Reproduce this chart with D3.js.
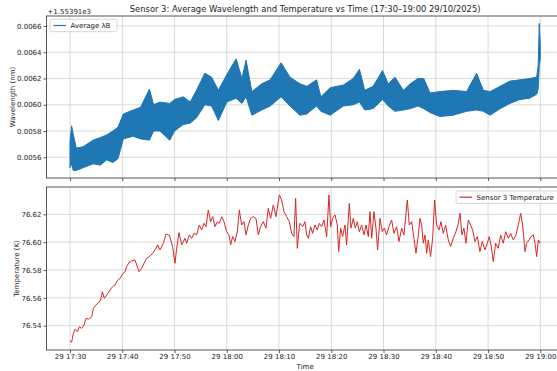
<!DOCTYPE html>
<html>
<head>
<meta charset="utf-8">
<script src="https://cdn.jsdelivr.net/npm/d3@7"></script>
<style>
  body { margin: 0; background: #fff; }
  text { font-family: "DejaVu Sans", sans-serif; fill: #222; }
</style>
</head>
<body>
<script>
// wavelength: offset from 1553.91 nm, upper / lower edge of the dense trace
const wlOffset = '+1.55391e3'
const wlMin = [0, 0.3, 0.6, 1.2, 2.5, 4.4, 5.8, 7.0, 8.2, 9.2, 10.2, 12.1, 13.5, 15.2, 16.0, 17.2, 19.1, 20.0, 21.7, 23.0,
  24.2, 25.8, 27.1, 28.4, 30.0, 31.8, 32.9, 33.7, 34.8, 36.7, 38.3, 40.4, 42.1, 44.0, 45.3, 47.2, 48.0, 49.8, 52.3, 54.2,
  55.4, 56.4, 58.0, 59.8, 60.9, 62.2, 63.8, 65.1, 66.6, 67.7, 68.9, 70.8, 73.3, 75.9, 77.8, 79.1, 80.4, 82.3, 84.2, 86.1,
  88.0, 89.3, 89.6, 89.8, 90.0]
const wlHi = [0.00572, 0.00584, 0.00578, 0.00567, 0.00568, 0.00573, 0.00575, 0.00577, 0.00580, 0.00583, 0.00593, 0.00596, 0.00598, 0.00612, 0.00600,
  0.00602, 0.00601, 0.00604, 0.00606, 0.00602, 0.00611, 0.00624, 0.00621, 0.00611, 0.00623, 0.00635, 0.00620, 0.00634, 0.00610, 0.00616,
  0.00619, 0.00632, 0.00621, 0.00616, 0.00614, 0.00619, 0.00606, 0.00613, 0.00615, 0.00620, 0.00627, 0.00611, 0.00614, 0.00626, 0.00616,
  0.00621, 0.00611, 0.00616, 0.00620, 0.00620, 0.00609, 0.00610, 0.00611, 0.00610, 0.00624, 0.00611, 0.00610, 0.00614, 0.00618, 0.00619,
  0.00620, 0.00621, 0.00630, 0.00662, 0.00645]
const wlLo = [0.00552, 0.00555, 0.00550, 0.00550, 0.00552, 0.00555, 0.00554, 0.00558, 0.00556, 0.00559, 0.00574, 0.00576, 0.00574, 0.00573, 0.00580,
  0.00580, 0.00573, 0.00580, 0.00585, 0.00586, 0.00590, 0.00600, 0.00599, 0.00588, 0.00602, 0.00605, 0.00601, 0.00606, 0.00592, 0.00596,
  0.00599, 0.00606, 0.00599, 0.00592, 0.00593, 0.00599, 0.00595, 0.00592, 0.00599, 0.00600, 0.00602, 0.00596, 0.00597, 0.00604, 0.00599,
  0.00595, 0.00596, 0.00597, 0.00599, 0.00597, 0.00594, 0.00591, 0.00592, 0.00595, 0.00596, 0.00595, 0.00592, 0.00597, 0.00601, 0.00604,
  0.00605, 0.00608, 0.00612, 0.00630, 0.00635]

// temperature (K), minutes after 17:30
const tempMin = [0, 0.3, 0.64, 0.96, 1.4, 1.79, 2.23, 2.68, 3.06, 3.51, 4.15, 4.47, 4.98, 5.42, 5.87, 6.19, 6.57, 7.02, 7.65, 8.16,
  8.61, 9.06, 9.57, 10.08, 10.52, 10.84, 11.29, 11.8, 12.44, 12.76, 13.2, 13.71, 14.16, 14.67, 15.18, 15.82, 16.46, 16.77, 17.22, 17.86,
  18.37, 19.01, 19.64, 20.09, 20.41, 20.86, 21.37, 22.0, 22.32, 22.83, 23.28, 23.73, 24.24, 24.75, 25.19, 25.64, 26.02, 26.47, 26.92, 27.30,
  27.75, 28.19, 28.57, 29.02, 29.47, 29.98, 30.43, 30.74, 31.13, 31.57, 32.02, 32.40, 32.85, 33.30, 33.68, 34.12, 34.57, 35.08, 35.59, 36.04,
  36.48, 36.99, 37.50, 37.95, 38.40, 38.91, 39.42, 40.06, 40.50, 40.95, 41.46, 41.97, 42.42, 42.86, 43.18, 43.50, 43.88, 44.01, 44.52, 44.97,
  45.29, 45.61, 46.05, 46.44, 46.88, 47.33, 47.71, 48.16, 48.61, 49.12, 49.56, 49.88, 50.26, 50.71, 51.16, 51.41, 51.79, 52.17, 52.62, 52.94,
  53.45, 53.77, 54.22, 54.60, 54.98, 55.37, 55.81, 56.26, 56.64, 57.09, 57.41, 57.73, 58.17, 58.55, 58.87, 59.32, 59.77, 60.15, 60.59, 61.04,
  61.55, 62.00, 62.51, 62.95, 63.47, 63.91, 64.55, 64.93, 65.38, 65.83, 66.21, 66.66, 66.97, 67.29, 67.61, 67.93, 68.25, 68.57, 69.01, 69.40,
  69.78, 70.16, 70.61, 70.99, 71.43, 71.88, 72.39, 72.84, 73.35, 73.86, 74.31, 74.63, 75.01, 75.39, 75.78, 76.22, 76.67, 77.05, 77.50, 77.94,
  78.45, 78.90, 79.41, 79.86, 80.24, 80.62, 81.01, 81.45, 81.96, 82.41, 82.92, 83.37, 83.88, 84.32, 84.84, 85.35, 85.79, 86.24, 86.62, 87.07,
  87.39, 87.84, 88.22, 88.67, 88.99, 89.31, 89.63, 89.95]
const tempK = [76.5292, 76.5280, 76.5344, 76.5374, 76.5356, 76.5392, 76.5380, 76.5404, 76.5453, 76.5446, 76.5464, 76.5525, 76.5548, 76.5565, 76.5584, 76.5644, 76.5596, 76.5620, 76.5656, 76.5680,
  76.5692, 76.5723, 76.5740, 76.5771, 76.5788, 76.5824, 76.5852, 76.5865, 76.5872, 76.5836, 76.5788, 76.5812, 76.5848, 76.5884, 76.5895, 76.5920, 76.5956, 76.5980, 76.5944, 76.5992,
  76.6058, 76.6050, 76.5967, 76.5848, 76.5956, 76.6068, 76.5980, 76.6028, 76.5992, 76.6052, 76.6028, 76.6063, 76.6052, 76.6123, 76.6087, 76.6135, 76.6111, 76.6231, 76.6147, 76.6183,
  76.6111, 76.6147, 76.6135, 76.6183, 76.6147, 76.6075, 76.6052, 76.5980, 76.6040, 76.6004, 76.6075, 76.6231, 76.6123, 76.6147, 76.6052, 76.6123, 76.6171, 76.6183, 76.6171, 76.6052,
  76.6111, 76.6147, 76.6100, 76.6243, 76.6171, 76.6267, 76.6183, 76.6339, 76.6303, 76.6219, 76.6183, 76.6147, 76.6063, 76.6040, 76.6315, 76.5956, 76.6111, 76.6135, 76.6111, 76.6147,
  76.6052, 76.6028, 76.6111, 76.6063, 76.6123, 76.6087, 76.6135, 76.6111, 76.6159, 76.6040, 76.6339, 76.6111, 76.6171, 76.6195, 76.6123, 76.5932, 76.6100, 76.6040, 76.6123, 76.5980,
  76.6279, 76.6100, 76.6171, 76.6100, 76.6147, 76.6075, 76.6123, 76.6052, 76.6123, 76.6040, 76.6219, 76.6028, 76.6219, 76.6100, 76.5944, 76.6171, 76.6075, 76.6100, 76.6052, 76.6111,
  76.6159, 76.6063, 76.6111, 76.6004, 76.6100, 76.6052, 76.6303, 76.6123, 76.6147, 76.6028, 76.5920, 76.6052, 76.6171, 76.6123, 76.5992, 76.6052, 76.5920, 76.6016, 76.5896, 76.6028,
  76.6303, 76.6123, 76.6087, 76.6147, 76.6063, 76.6123, 76.6016, 76.5968, 76.6028, 76.6075, 76.6135, 76.6207, 76.6052, 76.6100, 76.5992, 76.6159, 76.6123, 76.6087, 76.6004, 76.6040,
  76.5932, 76.6004, 76.5944, 76.5992, 76.6040, 76.5968, 76.5860, 76.5992, 76.5956, 76.6052, 76.5992, 76.6075, 76.6028, 76.6063, 76.6016, 76.6052, 76.6123, 76.6207, 76.6123, 76.5932,
  76.5992, 76.6016, 76.6040, 76.6052, 76.5992, 76.5896, 76.6016, 76.5992]

const wlTicks = [0.0056, 0.0058, 0.0060, 0.0062, 0.0064, 0.0066]
const tempTicks = [76.54, 76.56, 76.58, 76.60, 76.62]
const timeTicks = ['17:30', '17:40', '17:50', '18:00', '18:10', '18:20', '18:30', '18:40', '18:50', '19:00']

const day = '2025-10-29'
const t0 = new Date(`${day}T17:30:00`)
const at = m => new Date(t0.getTime() + m * 60000)

const W = 557, H = 371
const left = 46.5, right = 563.8
const top1 = 16, bot1 = 178, top2 = 187, bot2 = 350

const svg = d3.select('body').append('svg')
  .attr('width', W).attr('height', H)
  .attr('xmlns', 'http://www.w3.org/2000/svg')

let x = d3.scaleTime()
  .domain([at(-4.5), at(94.5)])
  .range([left, right])
let y1 = d3.scaleLinear().domain([0.005442, 0.006676]).range([bot1, top1])
let y2 = d3.scaleLinear().domain([76.5225, 76.6396]).range([bot2, top2])

const xTickDates = timeTicks.map(s => new Date(`${day}T${s}:00`))
const fmt = d3.timeFormat('%d %H:%M')

function panel(yScale, yTicks, yFmt, top, bot, showLabels) {
  const g = svg.append('g')
  // grid
  g.append('g').selectAll('line').data(xTickDates).join('line')
    .attr('x1', d => x(d)).attr('x2', d => x(d)).attr('y1', top).attr('y2', bot)
    .attr('stroke', '#b0b0b0').attr('stroke-opacity', 0.6).attr('stroke-width', 0.8)
  g.append('g').selectAll('line').data(yTicks).join('line')
    .attr('x1', left).attr('x2', right).attr('y1', d => yScale(d)).attr('y2', d => yScale(d))
    .attr('stroke', '#b0b0b0').attr('stroke-opacity', 0.6).attr('stroke-width', 0.8)

  const xa = g.append('g')
    .attr('transform', `translate(0,${bot})`)
    .call(d3.axisBottom(x).tickValues(xTickDates).tickSize(3).tickPadding(1.5)
      .tickFormat(showLabels ? fmt : ''))
  const ya = g.append('g')
    .attr('transform', `translate(${left},0)`)
    .call(d3.axisLeft(yScale).tickValues(yTicks).tickSize(3).tickPadding(2).tickFormat(yFmt))
  for (const a of [xa, ya]) {
    a.select('.domain').remove()
    a.selectAll('line').attr('stroke', '#333').attr('stroke-width', 0.8)
    a.selectAll('text').attr('font-size', 7).attr('font-family', '"DejaVu Sans", sans-serif').attr('fill', '#222')
  }
  return g
}

function frame(top, bot) {
  svg.append('rect')
    .attr('x', left).attr('y', top).attr('width', right - left).attr('height', bot - top)
    .attr('fill', 'none').attr('stroke', '#444').attr('stroke-width', 0.9)
}

svg.append('defs').call(d => {
  d.append('clipPath').attr('id', 'c1').append('rect')
    .attr('x', left).attr('y', top1).attr('width', right - left).attr('height', bot1 - top1)
  d.append('clipPath').attr('id', 'c2').append('rect')
    .attr('x', left).attr('y', top2).attr('width', right - left).attr('height', bot2 - top2)
})

// ---- top panel: wavelength
panel(y1, wlTicks, d3.format('.4f'), top1, bot1, false)
const wl = wlMin.map((m, i) => [at(m), wlLo[i], wlHi[i]])
const band = d3.area()
  .x(d => x(d[0]))
  .y0(d => y1(d[1]))
  .y1(d => y1(d[2]))
svg.append('path')
  .datum(wl)
  .attr('clip-path', 'url(#c1)')
  .attr('fill', '#1f77b4')
  .attr('stroke', '#1f77b4')
  .attr('stroke-width', 1)
  .attr('stroke-linejoin', 'round')
  .attr('d', band)
frame(top1, bot1)

svg.append('text').attr('x', left + 1).attr('y', top1 - 2)
  .attr('font-size', 7).text(wlOffset)
svg.append('text')
  .attr('transform', `translate(15,${(top1 + bot1) / 2}) rotate(-90)`)
  .attr('text-anchor', 'middle').attr('font-size', 7).text('Wavelength (nm)')

// ---- bottom panel: temperature
panel(y2, tempTicks, d3.format('.2f'), top2, bot2, true)
const temp = tempMin.map((m, i) => [at(m), tempK[i]])
svg.append('path')
  .datum(temp)
  .attr('clip-path', 'url(#c2)')
  .attr('fill', 'none')
  .attr('stroke', '#d62728')
  .attr('stroke-width', 1)
  .attr('stroke-linejoin', 'round')
  .attr('d', d3.line().x(d => x(d[0])).y(d => y2(d[1])))
frame(top2, bot2)

svg.append('text')
  .attr('transform', `translate(18.5,${(top2 + bot2) / 2}) rotate(-90)`)
  .attr('text-anchor', 'middle').attr('font-size', 7).text('Temperature (K)')
svg.append('text').attr('x', (left + right) / 2).attr('y', 368.5)
  .attr('text-anchor', 'middle').attr('font-size', 7).text('Time')

// title
svg.append('text').attr('x', (left + right) / 2).attr('y', 12.3)
  .attr('text-anchor', 'middle').attr('font-size', 8.4)
  .text('Sensor 3: Average Wavelength and Temperature vs Time (17:30–19:00 29/10/2025)')

// legends
function legend(x0, y0, label, color, anchorRight) {
  const g = svg.append('g')
  const box = g.append('rect').attr('fill', 'white').attr('fill-opacity', 0.8)
    .attr('stroke', '#ccc').attr('stroke-width', 0.8).attr('rx', 1.5)
  const txt = g.append('text').attr('font-size', 7).text(label)
  const tw = txt.node().getComputedTextLength()
  const w = tw + 27, h = 12.4
  const bx = anchorRight ? x0 - w : x0
  box.attr('x', bx).attr('y', y0).attr('width', w).attr('height', h)
  g.append('line').attr('x1', bx + 3.5).attr('x2', bx + 16).attr('y1', y0 + h / 2).attr('y2', y0 + h / 2)
    .attr('stroke', color).attr('stroke-width', 1.2)
  txt.attr('x', bx + 20.5).attr('y', y0 + h / 2 + 2.5)
}
legend(left + 3.5, top1 + 3.3, 'Average λB', '#1f77b4', false)
legend(right - 3.5, top2 + 4, 'Sensor 3 Temperature', '#d62728', true)
</script>
</body>
</html>
